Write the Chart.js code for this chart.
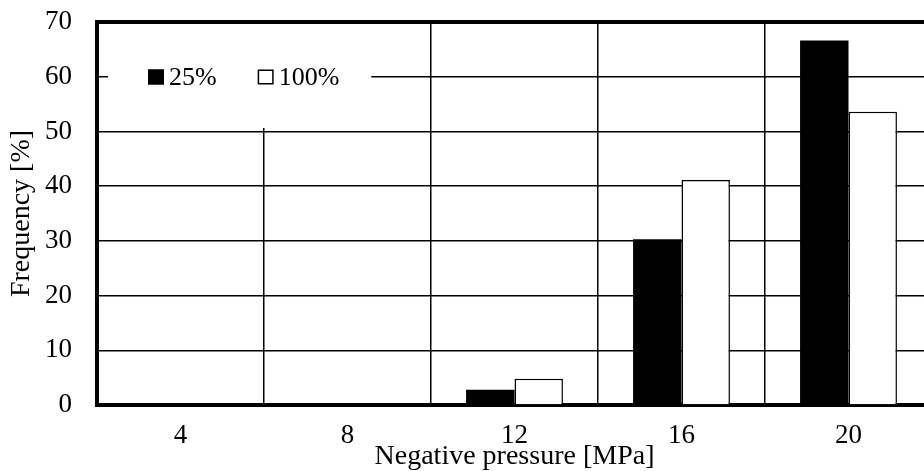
<!DOCTYPE html>
<html lang="en">
<head>
    <meta charset="UTF-8">
    <title>Negative pressure frequency</title>
    <script src="https://cdn.jsdelivr.net/npm/chart.js"></script>
    <style>
        html, body { margin: 0; padding: 0; background: #fff; overflow: hidden; }
        .wrap { width: 940px; height: 471px; }
    </style>
</head>
<body>
    <div class="wrap">
        <canvas id="freqChart"></canvas>
    </div>

    <script>
        // Data
        const pressures = ['4', '8', '12', '16', '20'];
        const freq25 = [0, 0, 2.8, 30.3, 66.6];
        const freq100 = [0, 0, 4.8, 41.1, 53.6];
        const yTicks = [0, 10, 20, 30, 40, 50, 60, 70];

        const serif = 'Liberation Serif';

        // legend inside the plot, on a white box that hides the grid behind it
        const innerLegend = {
            id: 'innerLegend',
            afterDatasetsDraw(chart) {
                const {ctx, chartArea} = chart;
                const sets = chart.data.datasets;
                const size = 26, box = 16, gap = 5, space = 41;
                const midY = chartArea.top + 55;
                ctx.save();
                ctx.font = size + 'px "' + serif + '"';
                // work out the widths first
                let x = chartArea.left + 51;
                const items = sets.map(ds => {
                    const w = ctx.measureText(ds.label).width;
                    const it = {ds, x, w};
                    x += box + gap + w + space;
                    return it;
                });
                const last = items[items.length - 1];
                const right = last.x + box + gap + last.w + 32;
                ctx.fillStyle = '#fff';
                ctx.fillRect(chartArea.left + 11, chartArea.top + 2,
                    right - chartArea.left - 11, midY + 51 - chartArea.top - 2);
                ctx.textBaseline = 'middle';
                ctx.textAlign = 'left';
                items.forEach(it => {
                    ctx.fillStyle = it.ds.backgroundColor;
                    ctx.fillRect(it.x, midY - 7.5, box, 15);
                    ctx.strokeStyle = '#000';
                    ctx.lineWidth = 1.5;
                    ctx.strokeRect(it.x + 0.75, midY - 6.75, box - 1.5, 13.5);
                    ctx.fillStyle = '#000';
                    ctx.fillText(it.ds.label, it.x + box + gap, midY + 1);
                });
                ctx.restore();
            }
        };

        new Chart(document.getElementById('freqChart'), {
            type: 'bar',
            data: {
                labels: pressures,
                datasets: [{
                    label: '25%',
                    data: freq25,
                    backgroundColor: '#000',
                    borderColor: '#000',
                    borderWidth: 0,
                    categoryPercentage: 0.58,
                    barPercentage: 1.0
                }, {
                    label: '100%',
                    data: freq100,
                    backgroundColor: '#fff',
                    borderColor: '#000',
                    borderWidth: 1.5,
                    categoryPercentage: 0.58,
                    barPercentage: 1.0
                }]
            },
            options: {
                responsive: true,
                maintainAspectRatio: false,
                animation: false,
                layout: { padding: { top: 22, right: 8, left: 0, bottom: 0 } },
                plugins: {
                    tooltip: { enabled: false },
                    legend: { display: false }
                },
                scales: {
                    x: {
                        grid: {
                            offset: true,
                            color: '#000',
                            lineWidth: 1.5,
                            drawTicks: false
                        },
                        border: { color: '#000', width: 4 },
                        ticks: {
                            color: '#000',
                            font: { family: serif, size: 27 },
                            padding: 15
                        },
                        title: {
                            display: true,
                            text: 'Negative pressure [MPa]',
                            color: '#000',
                            font: { family: serif, size: 28 },
                            padding: { top: 0, bottom: -2 }
                        },
                        afterFit(scale) { scale.height = 66; }
                    },
                    y: {
                        min: 0,
                        max: 70,
                        afterBuildTicks(scale) {
                            scale.ticks = yTicks.map(v => ({ value: v }));
                        },
                        grid: {
                            color: '#000',
                            lineWidth: ctx => (ctx.tick && ctx.tick.value === 70 ? 4 : 1.5),
                            drawTicks: false
                        },
                        border: { color: '#000', width: 4 },
                        ticks: {
                            color: '#000',
                            font: { family: serif, size: 27 },
                            padding: 25
                        },
                        title: {
                            display: true,
                            text: 'Frequency [%]',
                            color: '#000',
                            font: { family: serif, size: 28 },
                            padding: { top: 5, bottom: 0 }
                        },
                        afterFit(scale) {
                            scale.width = 97;
                            scale.paddingTop = 0;
                            scale.paddingBottom = 0;
                        }
                    }
                }
            },
            plugins: [innerLegend]
        });
    </script>
</body>
</html>
